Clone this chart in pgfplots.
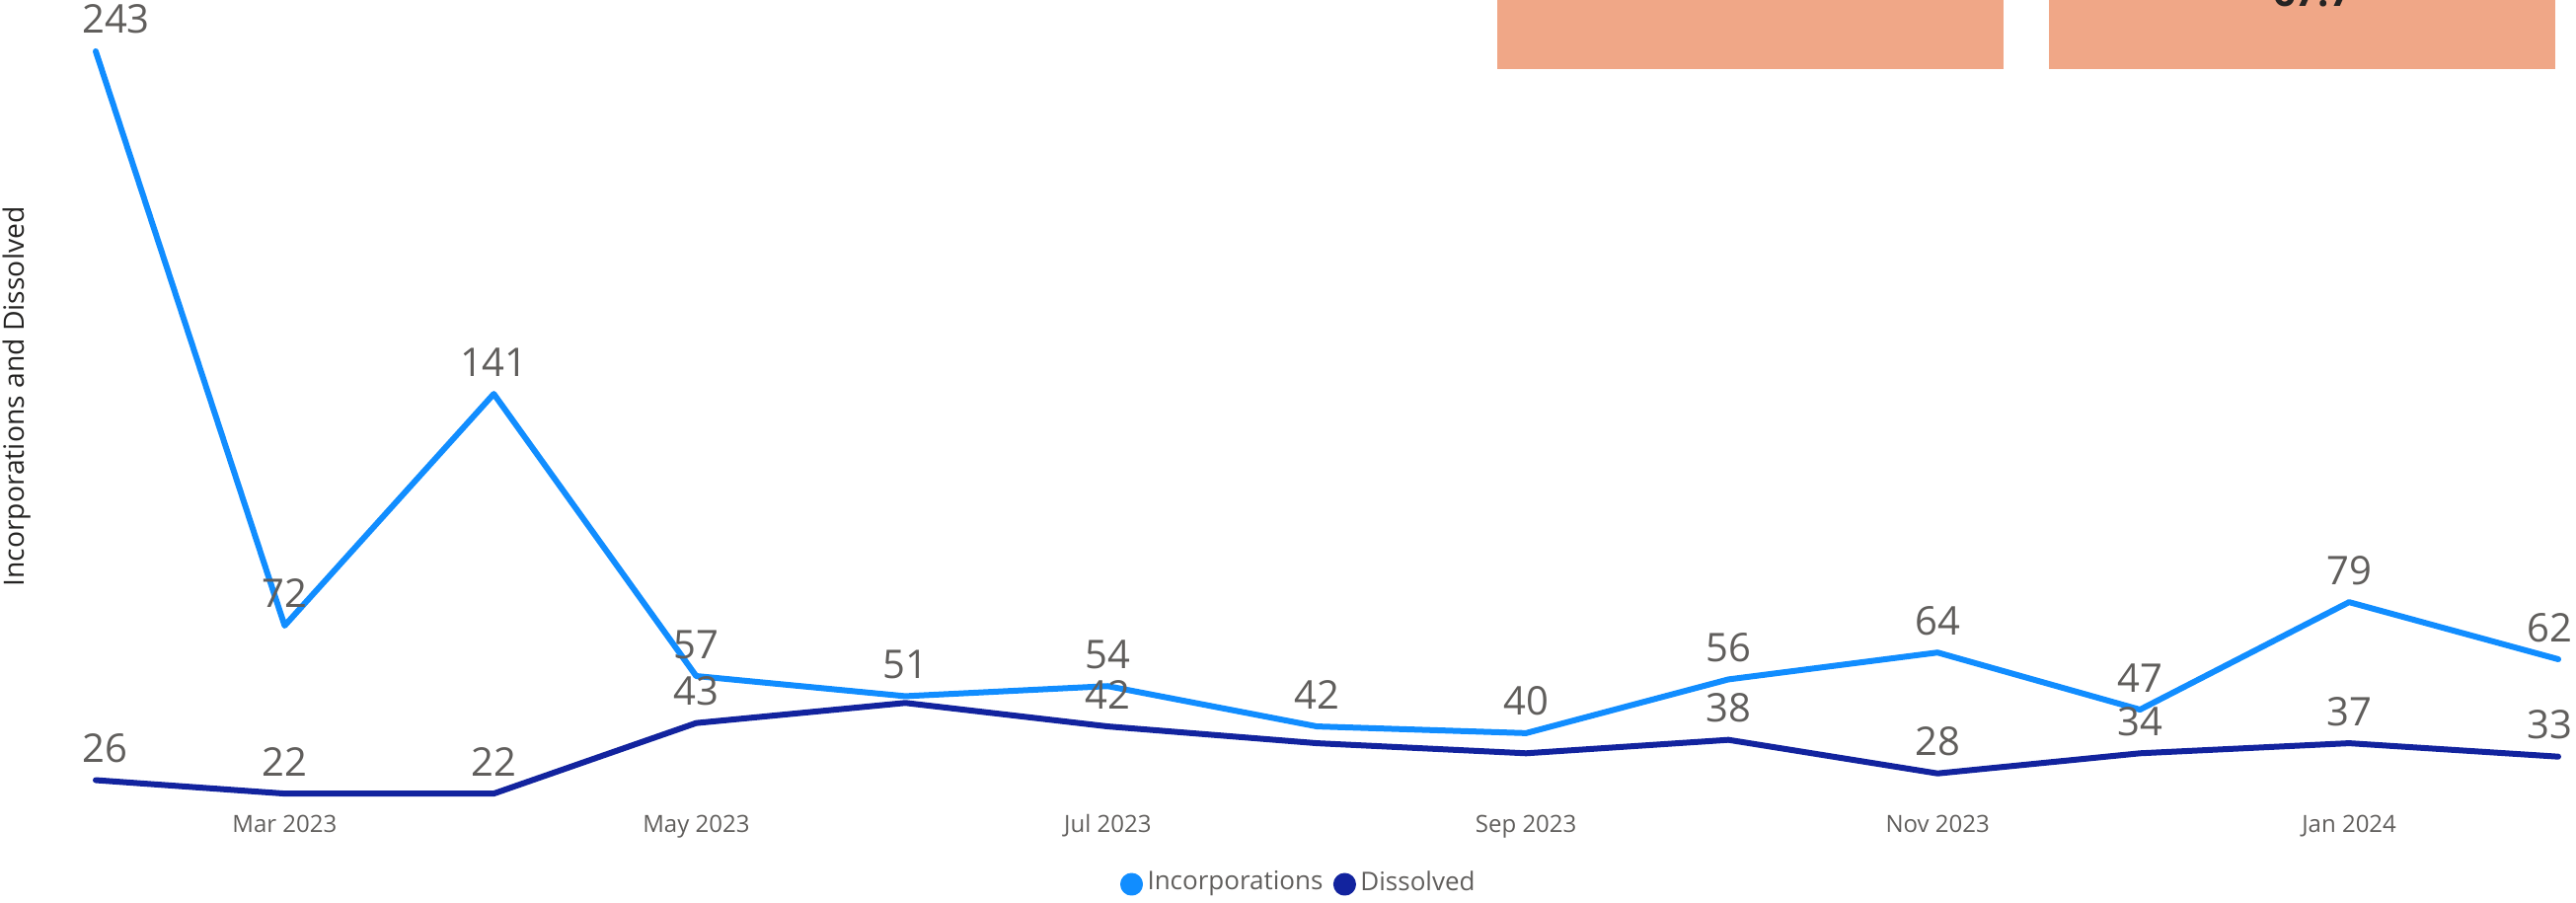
\documentclass[border=0pt]{standalone}
\usepackage{pgfplots}
\usepackage{pgfplotstable}
\pgfplotsset{compat=1.18}
\usepackage{fontspec}
\setmainfont{Open Sans}

\definecolor{incblue}{HTML}{118DFF}
\definecolor{disblue}{HTML}{12239E}
\definecolor{lblgray}{HTML}{605E5C}
\definecolor{darktxt}{HTML}{252423}
\definecolor{salmon}{HTML}{F0A787}

% day offset from 1 Feb 2023, incorporations, dissolved, dissolved label (blank = hidden)
% di/dd: label nudges (pt) so the end labels stay inside the picture
\pgfplotstableread{
x   inc dis dlab di   dd
0   243 26  26   4.1  1.8
28  72  22  22   0    0
59  141 22  22   0    0
89  57  43  43   0    0
120 51  49  {}   0    0
150 54  42  42   0    0
181 42  37  {}   0    0
212 40  34  {}   0    0
242 56  38  38   0    0
273 64  28  28   0    0
303 47  34  34   0    0
334 79  37  37   0    0
365 62  33  33   -1.8 -1.8
}\monthly

\begin{document}
\begin{tikzpicture}
  % cards at the top edge (cut off)
  \fill[salmon] (303.4pt,168.8pt) rectangle (406pt,182.8pt);
  \fill[salmon] (415.2pt,168.8pt) rectangle (517.8pt,182.8pt);
  \node[anchor=base, inner sep=0pt, text=darktxt, font=\bfseries\fontsize{8}{9}\selectfont]
    at (468.6pt,181.6pt) {67.7};

  \begin{axis}[
    at={(19.4pt,7pt)}, anchor=south west,
    scale only axis,
    width=499pt, height=165.4pt,
    xmin=0, xmax=365, ymin=0, ymax=243,
    clip=false,
    axis line style={draw=none},
    major tick length=0pt,
    ytick=\empty,
    xtick={28,89,150,212,273,334},
    xticklabels={Mar 2023,May 2023,Jul 2023,Sep 2023,Nov 2023,Jan 2024},
    xticklabel style={anchor=base, yshift=7.2pt, text=lblgray,
      font=\fontsize{4.8}{6}\selectfont},
    every axis plot/.append style={line width=1.2pt, line join=round, line cap=round, mark=none},
    nodes near coords style={anchor=base, yshift=3.6pt, xshift=\dx pt, inner sep=0pt,
      text=lblgray, font=\fontsize{8}{9}\selectfont},
    legend columns=2,
    legend style={at={(0.489,-0.0206)}, anchor=center, draw=none, fill=none,
      inner sep=0pt, font=\fontsize{5.2}{6}\selectfont, text=lblgray,
      nodes={inner sep=0.9pt},
      /tikz/every even column/.append style={column sep=1.2pt}},
    legend image code/.code={\fill[#1] (0pt,0pt) circle (1.7pt);},
  ]
    \addplot[color=incblue, nodes near coords, point meta=explicit symbolic,
      visualization depends on={\thisrow{di} \as \dx}]
      table[x=x, y=inc, meta=inc] {\monthly};
    \addlegendentry{Incorporations}
    \addplot[color=disblue, nodes near coords, point meta=explicit symbolic,
      visualization depends on={\thisrow{dd} \as \dx}]
      table[x=x, y=dis, meta=dlab] {\monthly};
    \addlegendentry{Dissolved}
  \end{axis}

  \node[rotate=90, anchor=base, inner sep=0pt, text=darktxt,
    font=\fontsize{5.66}{6.5}\selectfont] at (5pt,102.4pt) {Incorporations and Dissolved};

  \pgfresetboundingbox
  \path[use as bounding box] (0,0) rectangle (522pt,182.8pt);
\end{tikzpicture}
\end{document}
